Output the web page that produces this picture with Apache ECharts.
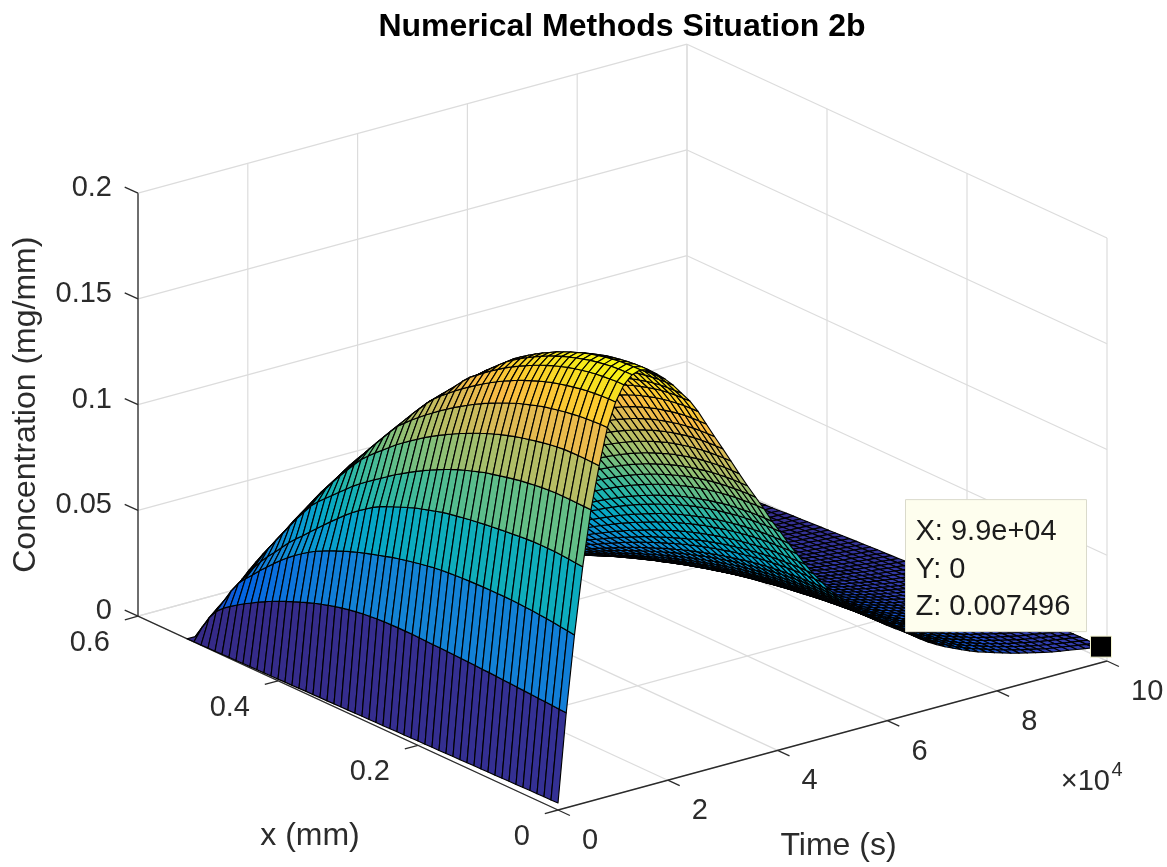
<!DOCTYPE html>
<html><head><meta charset="utf-8">
<style>html,body{margin:0;background:#fff}#c{width:1167px;height:867px}</style>
<script src="https://cdn.jsdelivr.net/npm/echarts@6/dist/echarts.min.js"></script>
</head><body><div id="c"></div>
<script>
const titleText = 'Numerical Methods Situation 2b';
const timeTicks = [0, 20000, 40000, 60000, 80000, 100000];
const timeTickLabels = ['0', '2', '4', '6', '8', '10'];
const xTicks = [0, 0.2, 0.4, 0.6];
const xTickLabels = ['0', '0.2', '0.4', '0.6'];
const zTicks = [0, 0.05, 0.1, 0.15, 0.2];
const zTickLabels = ['0', '0.05', '0.1', '0.15', '0.2'];
const tipPoint = [99000, 0, 0.007496];
const tipLines = ['X: 9.9e+04', 'Y: 0', 'Z: 0.007496'];
const timeStepSeconds = 1500;
const xStepMm = 0.01;
const zUnit = 1e-4;
// concentration, in units of zUnit: one row per time step, one value per x step
const zRows = [
[33,32,32,31,31,30,29,29,28,27, 27,26,26,25,24,24,23,22,22,21, 21,20,19,19,18,17,17,16,16,15, 14,14,13,12,12,11,11,10,9,9, 8,7,7,6,6,5,4,4,3,2, 2,1,1,0],
[449,451,453,455,457,459,461,463,465,467, 469,471,472,474,475,477,478,479,480,481, 482,483,484,484,484,483,482,480,477,473, 468,462,455,447,438,428,417,405,392,379, 365,350,335,318,300,281,262,241,219,195, 165,120,60,0],
[806,811,815,819,823,826,829,831,833,834, 835,835,835,834,833,832,830,828,825,822, 818,812,806,799,792,784,776,766,756,746, 735,724,712,699,685,670,654,637,617,595, 571,545,517,487,455,423,388,355,318,268, 208,155,95,0],
[1118,1121,1124,1127,1129,1130,1130,1129,1127,1124, 1120,1117,1113,1109,1105,1100,1095,1089,1083,1077, 1070,1060,1050,1040,1030,1017,1004,990,975,960, 941,918,895,870,842,812,782,751,719,687, 654,624,590,553,515,480,440,395,345,295, 240,180,105,0],
[1377,1378,1379,1380,1380,1380,1378,1375,1371,1366, 1361,1354,1347,1339,1331,1323,1312,1301,1289,1277, 1263,1247,1231,1214,1196,1177,1157,1136,1115,1092, 1068,1045,1021,996,970,940,910,880,850,820, 785,740,695,645,595,545,495,440,385,330, 272,215,150,0],
[1575,1576,1577,1577,1577,1576,1572,1567,1561,1554, 1546,1538,1529,1519,1508,1496,1483,1469,1454,1438, 1422,1404,1386,1367,1347,1326,1303,1280,1256,1231, 1203,1175,1147,1117,1085,1046,1005,963,920,873, 825,775,725,675,625,575,525,475,425,372, 318,260,180,0],
[1745,1745,1743,1741,1737,1732,1727,1720,1713,1705, 1695,1684,1673,1661,1647,1632,1617,1601,1583,1565, 1545,1524,1503,1480,1457,1432,1407,1380,1353,1323, 1293,1253,1210,1168,1125,1080,1035,990,945,900, 855,805,755,705,655,605,555,505,455,400, 345,270,185,0],
[1855,1855,1853,1850,1846,1841,1834,1827,1818,1809, 1798,1786,1773,1759,1744,1727,1710,1691,1671,1650, 1628,1605,1581,1556,1529,1502,1472,1437,1397,1357, 1315,1273,1230,1188,1145,1103,1060,1018,975,928, 880,835,790,740,690,640,590,537,485,430, 365,282,182,0],
[1926,1926,1923,1920,1916,1910,1903,1895,1886,1875, 1863,1850,1836,1820,1803,1785,1766,1746,1724,1701, 1677,1651,1625,1592,1555,1520,1485,1449,1412,1372, 1330,1290,1248,1207,1165,1123,1080,1038,995,950, 905,858,812,764,715,665,615,555,494,425, 350,267,170,0],
[1963,1962,1960,1957,1952,1946,1939,1930,1920,1909, 1897,1883,1868,1851,1833,1814,1794,1772,1748,1720, 1690,1660,1628,1595,1562,1528,1494,1460,1425,1388, 1350,1310,1268,1227,1185,1143,1100,1058,1015,973, 930,885,837,781,725,668,608,545,480,411, 337,255,160,0],
[1976,1975,1973,1970,1965,1959,1951,1942,1932,1920, 1907,1892,1877,1859,1841,1821,1800,1778,1754,1725, 1692,1665,1637,1604,1570,1538,1505,1470,1435,1403, 1371,1331,1291,1249,1206,1161,1116,1069,1020,971, 921,870,817,761,704,647,586,524,460,392, 319,240,149,0],
[1965,1964,1962,1958,1953,1947,1939,1929,1918,1906, 1892,1877,1860,1842,1823,1802,1780,1757,1732,1705, 1678,1649,1619,1588,1555,1521,1486,1450,1412,1373, 1333,1292,1251,1208,1163,1118,1071,1023,974,924, 873,822,769,712,657,600,541,480,417,352, 283,209,126,0],
[1935,1934,1932,1928,1923,1916,1908,1898,1887,1874, 1860,1844,1827,1809,1789,1767,1745,1720,1695,1668, 1640,1610,1579,1548,1514,1480,1443,1407,1368,1329, 1288,1246,1204,1161,1116,1070,1023,974,925,876, 825,774,722,666,611,555,497,438,378,316, 251,182,107,0],
[1900,1899,1897,1893,1888,1881,1872,1862,1851,1838, 1823,1807,1789,1770,1750,1728,1705,1680,1654,1627, 1598,1568,1536,1504,1470,1435,1398,1361,1322,1282, 1241,1198,1156,1112,1067,1020,973,925,876,826, 776,724,674,619,564,510,454,397,339,279, 219,155,88,0],
[1860,1859,1857,1853,1847,1840,1832,1821,1810,1796, 1782,1765,1747,1728,1707,1685,1661,1636,1609,1582, 1552,1522,1490,1457,1422,1387,1349,1312,1273,1232, 1191,1148,1105,1062,1016,969,923,875,825,777, 727,676,625,571,518,465,411,356,300,244, 187,129,69,0],
[1812,1811,1809,1805,1799,1792,1783,1773,1761,1748, 1733,1717,1699,1679,1658,1636,1612,1587,1560,1532, 1503,1472,1440,1407,1373,1337,1300,1262,1223,1183, 1142,1099,1056,1013,967,922,876,828,779,731, 682,632,582,529,478,426,374,321,268,215, 161,107,54,0],
[1765,1764,1762,1758,1753,1746,1737,1727,1716,1703, 1688,1672,1655,1636,1615,1593,1570,1546,1520,1492, 1464,1434,1403,1371,1337,1303,1266,1229,1191,1152, 1112,1070,1029,987,942,898,853,806,759,712, 664,616,567,515,465,415,364,313,261,209, 157,104,52,0],
[1705,1704,1702,1698,1693,1686,1678,1668,1657,1645, 1631,1615,1598,1580,1560,1539,1517,1493,1468,1442, 1414,1385,1355,1324,1292,1258,1223,1188,1151,1113, 1074,1034,994,953,910,867,824,779,733,688, 641,595,548,498,449,401,352,302,252,202, 152,101,50,0],
[1635,1634,1632,1629,1624,1617,1609,1600,1589,1577, 1564,1549,1533,1515,1496,1476,1455,1432,1408,1383, 1356,1328,1299,1270,1239,1207,1173,1139,1104,1067, 1030,991,953,914,873,832,790,747,703,660, 615,570,525,477,431,384,337,290,242,194, 145,97,48,0],
[1565,1564,1562,1559,1554,1548,1540,1531,1521,1510, 1497,1483,1467,1450,1432,1413,1392,1370,1347,1323, 1298,1272,1244,1216,1186,1155,1123,1090,1056,1021, 986,949,912,875,835,796,756,715,673,631, 589,546,503,457,413,368,323,277,231,186, 139,93,46,0],
[1497,1496,1494,1491,1487,1481,1473,1465,1455,1444, 1432,1418,1403,1387,1370,1351,1332,1311,1289,1266, 1242,1216,1190,1163,1134,1105,1074,1043,1010,977, 943,908,873,837,799,761,723,684,644,604, 563,522,481,437,395,352,309,265,221,178, 133,89,44,0],
[1428,1427,1425,1422,1418,1412,1405,1397,1388,1378, 1366,1353,1339,1323,1307,1289,1270,1250,1230,1208, 1184,1160,1135,1109,1082,1054,1024,995,964,932, 900,866,833,798,762,726,690,652,614,576, 537,498,459,417,376,336,294,253,211,169, 127,85,42,0],
[1358,1357,1356,1353,1348,1343,1337,1329,1320,1310, 1299,1286,1273,1258,1243,1226,1208,1189,1169,1148, 1126,1103,1079,1055,1029,1002,974,946,917,886, 856,824,792,759,725,691,656,620,584,548, 511,474,436,397,358,319,280,241,201,161, 121,80,40,0],
[1290,1289,1288,1285,1281,1276,1270,1262,1254,1244, 1234,1222,1209,1195,1181,1165,1148,1130,1111,1091, 1070,1048,1025,1002,977,952,925,899,871,842, 813,782,752,721,689,656,623,589,555,520, 485,450,415,377,340,303,266,229,191,153, 115,76,38,0],
[1225,1225,1223,1220,1216,1212,1206,1199,1191,1182, 1172,1160,1148,1135,1121,1106,1090,1073,1055,1036, 1016,995,974,951,928,904,879,853,827,799, 772,743,714,685,654,623,592,560,527,494, 461,427,394,358,323,288,253,217,181,145, 109,73,36,0],
[1160,1160,1158,1155,1152,1147,1142,1135,1128,1119, 1109,1099,1087,1075,1062,1047,1032,1016,999,981, 962,943,922,901,879,856,832,808,783,757, 731,703,676,648,619,590,561,530,499,468, 436,405,373,339,306,273,239,206,171,138, 103,69,34,0],
[1090,1090,1088,1086,1082,1078,1073,1067,1059,1052, 1042,1033,1022,1010,998,984,970,955,938,922, 904,886,866,847,826,804,782,759,736,711, 687,661,635,609,582,554,527,498,469,440, 410,380,350,318,287,256,225,193,161,129, 97,65,32,0],
[1030,1030,1028,1026,1023,1019,1014,1008,1001,994, 985,976,966,955,943,930,916,902,887,871, 854,837,819,800,780,760,739,717,695,672, 649,625,600,576,550,524,498,471,443,416, 387,359,331,301,272,242,212,183,152,122, 92,61,30,0],
[965,965,963,961,958,954,950,944,938,931, 923,914,905,894,883,871,859,845,831,816, 800,784,767,750,731,712,692,672,651,630, 608,585,563,539,515,491,466,441,415,389, 363,337,310,282,254,227,199,171,143,114, 86,57,29,0],
[905,905,903,901,899,895,891,886,880,873, 866,857,848,839,828,817,805,793,779,765, 751,735,719,703,686,668,649,630,611,591, 570,549,528,506,483,460,437,413,389,365, 340,316,291,264,239,213,187,160,134,107, 80,54,27,0],
[845,845,843,842,839,836,832,827,821,815, 808,800,792,783,773,763,752,740,728,715, 701,687,672,656,640,624,606,589,570,551, 532,512,493,472,451,430,408,386,363,341, 318,295,272,247,223,199,174,150,125,100, 75,50,25,0],
[790,790,789,787,784,781,778,773,768,762, 756,748,741,732,723,713,703,692,680,668, 655,642,628,614,599,583,567,550,533,516, 498,479,461,442,422,402,382,361,340,319, 297,276,254,231,208,186,163,140,117,94, 70,47,23,0],
[740,740,739,737,735,732,728,724,719,714, 708,701,694,686,677,668,658,648,637,626, 614,601,588,575,561,546,531,515,500,483, 466,449,431,414,395,376,358,338,318,299, 278,258,238,216,195,174,153,131,109,88, 66,44,22,0],
[690,690,689,687,685,682,679,675,671,666, 660,654,647,639,631,623,614,604,594,583, 572,561,548,536,523,509,495,481,466,450, 435,418,402,386,368,351,333,315,297,278, 260,241,222,201,182,162,142,122,102,82, 61,41,20,0],
[650,650,649,647,645,643,640,636,632,627, 622,616,609,602,595,587,578,569,560,550, 539,528,517,505,492,480,466,453,439,424, 410,394,379,363,347,331,314,297,280,262, 245,227,209,190,171,153,134,115,96,77, 58,38,19,0],
[611,611,610,609,607,604,601,598,594,589, 584,579,573,566,559,552,544,535,526,517, 507,496,486,475,463,451,438,426,412,399, 385,371,356,342,326,311,295,279,263,246, 230,213,196,178,161,144,126,108,90,72, 54,36,18,0],
[575,575,574,573,571,569,566,563,559,555, 550,545,539,533,526,519,512,504,495,486, 477,467,457,447,436,424,413,401,388,375, 362,349,335,321,307,292,278,263,247,232, 216,201,185,168,152,135,119,102,85,68, 51,34,17,0],
[541,541,540,539,537,535,532,529,526,522, 517,512,507,501,495,488,481,474,466,457, 449,440,430,420,410,399,388,377,365,353, 341,328,315,302,289,275,261,247,233,218, 204,189,174,158,143,127,112,96,80,64, 48,32,16,0],
[509,509,508,507,505,503,501,498,495,491, 487,482,477,472,466,460,453,446,438,430, 422,414,405,395,386,376,365,355,344,332, 321,309,297,285,272,259,246,233,219,205, 191,178,164,149,134,120,105,90,75,60, 45,30,15,0],
[479,479,478,477,476,474,471,469,466,462, 458,454,449,444,438,432,426,419,412,405, 397,389,381,372,363,354,344,334,323,313, 302,290,279,268,256,244,231,219,206,193, 180,167,154,140,126,113,99,85,71,57, 43,28,14,0],
[450,450,449,448,447,445,443,440,437,434, 430,426,422,417,412,406,400,394,387,381, 373,366,358,350,341,332,323,313,304,294, 284,273,262,252,240,229,217,206,194,182, 169,157,145,131,119,106,93,80,67,53, 40,27,13,0],
[424,424,423,422,421,419,417,415,412,409, 406,402,397,393,388,383,377,371,365,359, 352,345,337,329,321,313,304,295,286,277, 267,257,247,237,226,216,205,194,182,171, 160,148,136,124,112,100,87,75,63,50, 38,25,13,0],
[399,399,398,397,396,395,393,390,388,385, 382,378,374,370,365,360,355,349,344,337, 331,324,317,310,302,294,286,278,269,260, 251,242,233,223,213,203,193,182,172,161, 150,139,128,117,105,94,82,71,59,47, 35,24,12,0],
[375,375,374,374,372,371,369,367,365,362, 359,355,352,348,343,339,334,328,323,317, 311,305,298,291,284,277,269,261,253,245, 236,227,219,210,200,191,181,171,161,151, 141,131,121,110,99,88,77,66,55,44, 33,22,11,0],
[344,344,343,343,342,340,339,337,334,332, 329,326,322,319,315,311,306,301,296,291, 285,280,273,267,261,254,247,240,232,224, 217,209,201,192,184,175,166,157,148,139, 129,120,111,100,91,81,71,61,51,41, 31,20,10,0],
[318,318,317,317,316,315,313,311,309,307, 304,301,298,295,291,287,283,278,274,269, 264,258,253,247,241,235,228,222,215,208, 200,193,185,178,170,162,154,145,137,128, 120,111,102,93,84,75,66,56,47,38, 28,19,9,0],
[296,296,295,295,294,293,291,290,288,286, 283,280,277,274,271,267,263,259,255,250, 246,241,235,230,224,218,212,206,200,193, 186,179,173,165,158,151,143,135,127,119, 111,103,95,86,78,70,61,52,44,35, 26,18,9,0],
[275,275,275,274,273,272,271,269,267,265, 263,261,258,255,252,248,245,241,237,233, 228,223,219,214,208,203,197,192,186,179, 173,167,160,154,147,140,133,126,118,111, 103,96,88,80,72,65,57,49,41,33, 24,16,8,0],
[258,258,258,257,256,255,254,252,251,249, 247,244,242,239,236,233,230,226,222,218, 214,210,205,200,195,190,185,180,174,168, 163,156,150,144,138,131,125,118,111,104, 97,90,83,75,68,61,53,46,38,31, 23,15,8,0],
[240,240,240,239,238,237,236,235,233,232, 230,227,225,222,220,217,214,210,207,203, 199,195,191,186,182,177,172,167,162,157, 151,146,140,134,128,122,116,110,103,97, 90,84,77,70,63,56,49,43,35,28, 21,14,7,0],
[224,224,224,223,222,222,220,219,218,216, 214,212,210,208,205,202,199,196,193,189, 186,182,178,174,170,165,161,156,151,146, 141,136,131,125,120,114,108,102,96,90, 84,78,72,65,59,53,46,40,33,27, 20,13,7,0],
[209,209,209,208,208,207,206,205,203,202, 200,198,196,194,191,189,186,183,180,177, 173,170,166,162,158,154,150,146,141,136, 132,127,122,117,112,106,101,95,90,84, 79,73,67,61,55,49,43,37,31,25, 19,12,6,0],
[197,197,197,196,196,195,194,193,191,190, 188,187,185,183,180,178,175,173,170,167, 163,160,157,153,149,145,141,137,133,129, 124,119,115,110,105,100,95,90,85,79, 74,69,63,58,52,46,41,35,29,23, 18,12,6,0],
[184,184,184,183,183,182,181,180,179,178, 176,174,172,171,168,166,164,161,158,156, 153,150,146,143,139,136,132,128,124,120, 116,112,107,103,98,94,89,84,79,74, 69,64,59,54,49,43,38,33,27,22, 16,11,5,0],
[172,172,172,171,171,170,169,168,167,166, 165,163,161,159,157,155,153,151,148,145, 143,140,137,134,130,127,123,120,116,112, 108,104,100,96,92,87,83,79,74,69, 65,60,55,50,45,40,35,30,25,20, 15,10,5,0],
[160,160,160,159,159,158,157,157,156,154, 153,152,150,148,146,144,142,140,138,135, 133,130,127,124,121,118,115,111,108,104, 101,97,93,89,85,81,77,73,69,65, 60,56,51,47,42,38,33,28,24,19, 14,9,5,0],
[150,150,150,149,149,148,148,147,146,145, 143,142,141,139,137,135,133,131,129,127, 124,122,119,117,114,111,108,104,101,98, 95,91,87,84,80,76,72,69,65,61, 56,52,48,44,40,35,31,27,22,18, 13,9,4,0],
[140,140,140,139,139,138,138,137,136,135, 134,133,131,130,128,126,125,123,121,118, 116,114,111,109,106,103,100,98,95,91, 88,85,82,78,75,71,68,64,60,56, 53,49,45,41,37,33,29,25,21,17, 12,8,4,0],
[131,131,131,130,130,130,129,128,127,126, 125,124,123,121,120,118,117,115,113,111, 109,106,104,102,99,97,94,91,88,85, 83,79,76,73,70,67,63,60,56,53, 49,46,42,38,35,31,27,23,19,16, 12,8,4,0],
[122,122,122,122,121,121,120,119,119,118, 117,116,114,113,112,110,109,107,105,103, 101,99,97,95,92,90,88,85,82,80, 77,74,71,68,65,62,59,56,52,49, 46,43,39,36,32,29,25,22,18,14, 11,7,4,0],
[113,113,113,113,112,112,111,111,110,109, 108,107,106,105,103,102,101,99,97,96, 94,92,90,88,86,83,81,79,76,74, 71,69,66,63,60,57,55,52,49,46, 43,39,36,33,30,27,23,20,17,13, 10,7,3,0],
[106,106,106,106,105,105,104,104,103,102, 101,100,99,98,97,96,94,93,91,90, 88,86,84,82,80,78,76,74,72,69, 67,64,62,59,57,54,51,48,46,43, 40,37,34,31,28,25,22,19,16,13, 9,6,3,0],
[100,100,100,100,99,99,98,98,97,96, 96,95,94,93,92,90,89,88,86,85, 83,81,79,78,76,74,72,70,68,65, 63,61,58,56,53,51,48,46,43,40, 38,35,32,29,26,24,21,18,15,12, 9,6,3,0],
[93,93,93,93,92,92,92,91,90,90, 89,88,87,86,85,84,83,81,80,79, 77,76,74,72,70,69,67,65,63,61, 59,56,54,52,50,47,45,42,40,38, 35,32,30,27,25,22,19,16,14,11, 8,6,3,0],
[87,87,87,87,86,86,86,85,85,84, 83,82,82,81,80,79,77,76,75,74, 72,71,69,68,66,64,62,61,59,57, 55,53,51,49,46,44,42,40,37,35, 33,30,28,25,23,20,18,15,13,10, 8,5,3,0],
[81,81,81,81,80,80,80,79,79,78, 77,77,76,75,74,73,72,71,70,68, 67,66,64,63,61,60,58,56,55,53, 51,49,47,45,43,41,39,37,35,33, 30,28,26,24,21,19,17,14,12,10, 7,5,2,0],
[75,75,75,75,74,74,74,73,73,72, 72,71,70,70,69,68,67,66,65,63, 62,61,60,58,57,55,54,52,51,49, 47,45,44,42,40,38,36,34,32,30, 28,26,24,22,20,18,15,13,11,9, 7,4,2,0]
];
const parulaStops = ['#352A87','#3243BA','#0363E1','#0D75DC','#1485D4','#0998D1','#06A7C6','#15B1B4','#38B99E','#65BE86','#92BF73','#B7BD64','#D9BA56','#F8BB44','#FCCE2E','#F5E41D','#F9FB0E'];

zRows.forEach((r, i) => { if (r.length !== 54) console.error('row ' + i + ' has ' + r.length); });

// orthographic view: (time s, x mm, z) to the plane of the hidden axes
function project(t, x, z) {
  return [558 + 0.00549 * t - 700 * x, 810 - 0.00149 * t - 323 * x - 2115 * z];
}
function depth(t, x, z) { return t / 127500 + x - z / 0.2426; }

const zMax = Math.max(...zRows.flat());
const stopRGB = parulaStops.map(h => [1, 3, 5].map(i => parseInt(h.substr(i, 2), 16)));
function parula(v) {
  const p = Math.min(0.9999, Math.max(0, v)) * 15.75;
  const a = Math.min(15, Math.floor(p));
  const f = a === 15 ? (p - 15) / 0.75 : p - a;
  const c = stopRGB[a].map((q, n) => Math.round(q + (stopRGB[a + 1][n] - q) * f));
  return 'rgb(' + c.join(',') + ')';
}

const tMax = timeTicks[timeTicks.length - 1], xMax = xTicks[xTicks.length - 1], zTop = zTicks[zTicks.length - 1];
const wallSegments = [];
timeTicks.forEach(t => {
  wallSegments.push([t, 0, 0, t, xMax, 0]);
  wallSegments.push([t, xMax, 0, t, xMax, zTop]);
});
xTicks.forEach(x => {
  wallSegments.push([0, x, 0, tMax, x, 0]);
  wallSegments.push([tMax, x, 0, tMax, x, zTop]);
});
zTicks.forEach(z => {
  wallSegments.push([0, xMax, z, tMax, xMax, z]);
  wallSegments.push([tMax, xMax, z, tMax, 0, z]);
});
const axisSegments = [
  [0, xMax, 0, 0, xMax, zTop], [0, 0, 0, 0, xMax, 0], [0, 0, 0, tMax, 0, 0]
];
timeTicks.forEach(t => axisSegments.push([t, 0, 0, t, -0.017, 0]));
xTicks.forEach(x => axisSegments.push([0, x, 0, -2400, x, 0]));
zTicks.forEach(z => axisSegments.push([0, xMax, z, 0, xMax + 0.019, z]));

const cells = [];
for (let k = 0; k < zRows.length - 1; k++) {
  for (let j = 0; j < zRows[k].length - 1; j++) {
    const d = depth((k + 0.5) * timeStepSeconds, (j + 0.5) * xStepMm,
      (zRows[k][j] + zRows[k + 1][j] + zRows[k][j + 1] + zRows[k + 1][j + 1]) * zUnit / 4);
    cells.push([k, j, d]);
  }
}
cells.sort((a, b) => b[2] - a[2]);

const fontFamily = '"Liberation Sans", Arial, sans-serif';
const textItems = [];
timeTickLabels.forEach((s, i) => textItems.push({ s, p: [timeTicks[i], 0, 0], dx: 24, dy: 31, align: 'left' }));
xTickLabels.forEach((s, i) => textItems.push({ s, p: [0, xTicks[i], 0], dx: -28, dy: 27, align: 'right' }));
zTickLabels.forEach((s, i) => textItems.push({ s, p: [0, xMax, zTicks[i]], dx: -26, dy: -5, align: 'right' }));
textItems.push({ s: 'x (mm)', p: [0, 0.3, 0], dx: -38, dy: 123, align: 'center', size: 32 });
textItems.push({ s: 'Time (s)', p: [50000, 0, 0], dx: 6, dy: 111, align: 'center', size: 32 });
textItems.push({ s: 'Concentration (mg/mm)', p: [0, xMax, 0.1], dx: -112, dy: 0, align: 'center', size: 32, rot: Math.PI / 2 });
textItems.push({ s: '\u00d710', p: [tMax, 0, 0], dx: 3, dy: 121, align: 'right' });
textItems.push({ s: '4', p: [tMax, 0, 0], dx: 10, dy: 109, align: 'center', size: 20 });

function renderSegment(color, width) {
  return function (params, api) {
    const a = api.coord(project(api.value(0), api.value(1), api.value(2)));
    const b = api.coord(project(api.value(3), api.value(4), api.value(5)));
    return { type: 'line', shape: { x1: a[0], y1: a[1], x2: b[0], y2: b[1] }, style: { stroke: color, lineWidth: width }, silent: true };
  };
}
function renderCell(params, api) {
  const k = api.value(0), j = api.value(1);
  const points = [[k, j], [k + 1, j], [k + 1, j + 1], [k, j + 1]].map(c =>
    api.coord(project(c[0] * timeStepSeconds, c[1] * xStepMm, zRows[c[0]][c[1]] * zUnit)));
  return { type: 'polygon', shape: { points }, style: { fill: parula(zRows[k][j] / zMax), stroke: '#000', lineWidth: 1.15, lineJoin: 'round' }, silent: true };
}
function renderText(params, api) {
  const it = textItems[api.value(0)];
  const c = api.coord(project(it.p[0], it.p[1], it.p[2]));
  return { type: 'text', x: c[0] + it.dx, y: c[1] + it.dy, rotation: it.rot || 0, silent: true,
    style: { text: it.s, fill: '#2b2b2b', fontSize: it.size || 29, fontFamily, align: it.align, verticalAlign: 'middle' } };
}
function renderTip(params, api) {
  const c = api.coord(project(tipPoint[0], tipPoint[1], tipPoint[2]));
  const left = c[0] - 196, top = c[1] - 147;
  return { type: 'group', silent: true, children: [
    { type: 'rect', shape: { x: left, y: top, width: 181, height: 132 }, style: { fill: '#FEFEEE', stroke: '#DADACB', lineWidth: 1 } },
    { type: 'rect', shape: { x: c[0] - 11, y: c[1] - 10.5, width: 21, height: 21 }, style: { fill: '#000', stroke: '#F4F4CF', lineWidth: 1 } }
  ].concat(tipLines.map((s, i) => ({ type: 'text', x: left + 10, y: top + 32.5 + 37.5 * i,
    style: { text: s, fill: '#1c1c1c', fontSize: 29, fontFamily, align: 'left', verticalAlign: 'middle' } }))) };
}

const chart = echarts.init(document.getElementById('c'), null, { renderer: 'canvas' });
chart.setOption({
  animation: false,
  backgroundColor: '#fff',
  title: { text: titleText, left: 617, top: 6, textAlign: 'center', textStyle: { fontFamily, fontSize: 32, fontWeight: 'bold', color: '#000' } },
  grid: { left: 0, right: 0, top: 0, bottom: 0 },
  xAxis: { type: 'value', min: 0, max: 1167, show: false },
  yAxis: { type: 'value', min: 0, max: 867, inverse: true, show: false },
  tooltip: { show: false },
  series: [
    { type: 'custom', name: 'walls', z: 1, clip: false, progressive: 0, data: wallSegments, renderItem: renderSegment('#dcdcdc', 1.2) },
    { type: 'custom', name: 'axes', z: 2, clip: false, progressive: 0, data: axisSegments, renderItem: renderSegment('#2b2b2b', 1.3) },
    { type: 'custom', name: 'Concentration', z: 3, clip: false, progressive: 0, data: cells, renderItem: renderCell },
    { type: 'custom', name: 'labels', z: 4, clip: false, progressive: 0, data: textItems.map((_, i) => [i]), renderItem: renderText },
    { type: 'custom', name: 'data tip', z: 5, clip: false, progressive: 0, data: [[0]], renderItem: renderTip }
  ]
});
</script></body></html>
